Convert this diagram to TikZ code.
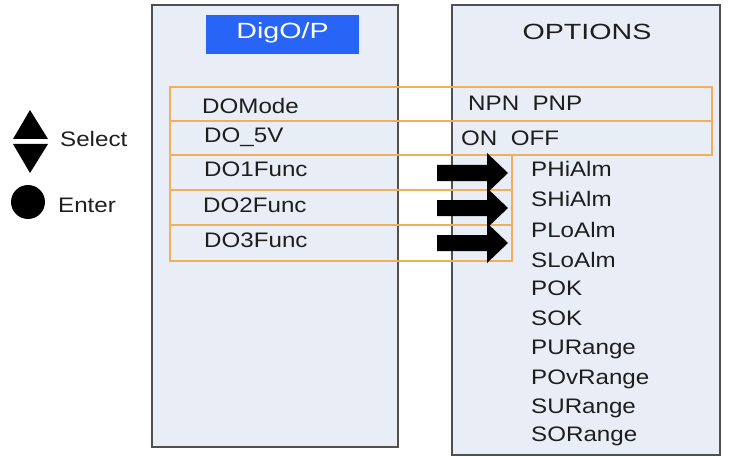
\documentclass[tikz,border=0pt]{standalone}
\usepackage{fontspec}
\setmainfont{Liberation Sans}[FakeStretch=1.15]
\newfontfamily\titlefont{Liberation Sans}[FakeStretch=1.3]
\definecolor{panelfill}{RGB}{232,237,246}
\definecolor{panelline}{RGB}{80,80,80}
\definecolor{rowline}{RGB}{240,175,90}
\definecolor{titleblue}{RGB}{40,100,245}
\definecolor{txt}{RGB}{30,30,30}
\tikzset{
  panel/.style={draw=panelline,fill=panelfill,line width=1.2pt},
  rowbox/.style={draw=rowline,line width=1.3pt},
  lbl/.style={anchor=base west,inner sep=0pt,text=txt,font=\fontsize{21}{24}\selectfont},
  ttl/.style={anchor=base,inner sep=0pt,text=txt,font=\titlefont\fontsize{22}{26}\selectfont},
  blockarrow/.style={fill=black}
}
\begin{document}
\begin{tikzpicture}[x=1pt,y=-1pt]
\useasboundingbox (0,0) rectangle (738,457);
% panels
\draw[panel] (152,5) rectangle (398,447);
\draw[panel] (452,5) rectangle (720,455);
% title box
\fill[titleblue] (206,15) rectangle (359,54);
\node[ttl,text=white] (digop) at (282.5,39) {DigO/P};
\node[ttl] (options) at (587,40) {OPTIONS};
% orange rows
\draw[rowbox] (170,87) rectangle (712,121);
\draw[rowbox] (170,121) rectangle (712,155);
\draw[rowbox] (170,155) rectangle (512,190);
\draw[rowbox] (170,190) rectangle (512,225);
\draw[rowbox] (170,225) rectangle (512,261);
% left labels
\node[lbl] (domode) at (202,113.5) {DOMode};
\node[lbl] (do5v) at (204,142.5) {DO\_5V};
\node[lbl] (do1) at (204,177) {DO1Func};
\node[lbl] (do2) at (203,212) {DO2Func};
\node[lbl] (do3) at (204,247) {DO3Func};
\node[lbl] (npn) at (468,111) {NPN\ \ PNP};
\node[lbl] (onoff) at (461,146) {ON\ \ OFF};
% option list
\foreach \n/\y/\t in {o1/177/PHiAlm,o2/206/SHiAlm,o3/237/PLoAlm,o4/267/SLoAlm,o5/295/POK,o6/325/SOK,o7/354/PURange,o8/384/POvRange,o9/413/SURange,o10/441/SORange}
  \node[lbl] (\n) at (531,\y) {\t};
% block arrows
\foreach \c in {173,208,243}
  \fill[blockarrow] (437,\c-8) -- (487,\c-8) -- (487,\c-20) -- (508,\c) -- (487,\c+20) -- (487,\c+8) -- (437,\c+8) -- cycle;
% legend
\fill[black] (30,110) -- (48,139) -- (13,139) -- cycle;
\fill[black] (13,144) -- (48,144) -- (30,173) -- cycle;
\fill[black] (28,202) circle (17);
\node[lbl] (select) at (60,147) {Select};
\node[lbl] (enter) at (58,212) {Enter};
\end{tikzpicture}
\end{document}
